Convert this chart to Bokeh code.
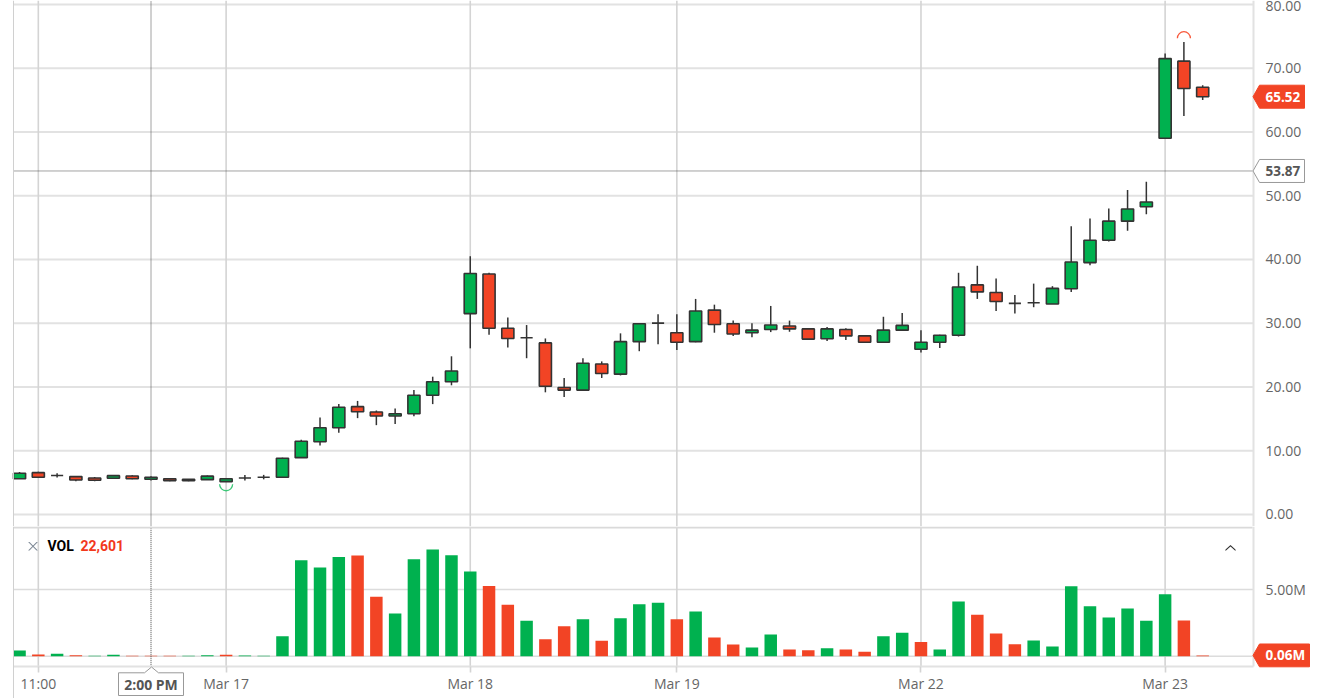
from bokeh.embed import file_html
from bokeh.resources import INLINE
from bokeh.plotting import figure
from bokeh.layouts import column
from bokeh.models import (ColumnDataSource, FixedTicker, Label, LinearAxis, PolyAnnotation,
                          Range1d, NumeralTickFormatter)
import math

opens = [5.6,6.55,6.1,5.93,5.72,5.67,6.03,5.52,5.6,5.3,5.45,5.14,5.72,5.83,5.83,8.9,11.4,13.6,16.9,16.07,
         15.44,15.8,18.7,20.8,31.5,37.7,29.2,27.7,26.9,19.9,19.5,23.6,22.0,27.1,30.0,28.5,27.1,32.05,29.9,28.5,
         29.0,29.55,29.1,27.55,29.0,28.0,27.0,28.9,25.9,27.0,28.1,36.0,34.8,33.1,33.2,33.0,35.4,39.5,43.0,46.0,
         48.25,59.0,71.1,67.0]
highs = [6.66,6.7,6.45,6.0,5.85,6.2,6.15,6.0,5.7,5.55,6.1,5.7,6.2,6.2,8.9,11.7,15.2,17.3,17.8,16.3,
         16.6,19.5,21.6,24.8,40.5,37.9,30.9,29.7,27.6,21.4,24.5,24.0,28.4,30.0,31.4,31.4,33.8,32.9,30.4,30.0,
         32.7,30.4,29.2,29.4,29.2,28.1,31.0,31.6,28.9,28.2,37.9,39.0,37.0,34.4,36.2,35.8,45.2,46.4,48.0,50.9,
         52.2,72.3,74.1,67.3]
lows = [5.6,5.8,5.77,5.2,5.2,5.6,5.5,5.3,5.2,5.2,5.4,5.1,5.3,5.5,5.83,8.9,10.8,12.8,15.1,14.0,
        14.2,15.4,17.3,20.25,26.05,28.2,26.2,24.5,19.15,18.4,19.5,21.4,21.8,25.6,26.7,25.8,27.0,28.5,28.0,27.8,
        28.6,28.65,27.4,27.2,27.35,26.9,26.9,28.8,25.4,26.1,27.9,33.8,31.9,31.5,32.5,33.0,34.9,39.1,42.8,44.5,
        47.1,59.0,62.5,65.0]
closes = [6.45,5.83,6.1,5.4,5.36,6.08,5.6,5.83,5.3,5.5,6.0,5.6,5.72,5.83,8.8,11.47,13.6,16.8,16.1,15.44,
          15.8,18.7,20.8,22.5,37.8,29.2,27.6,27.7,20.1,19.5,23.7,22.1,27.1,29.9,30.0,27.0,31.9,29.8,28.3,28.9,
          29.7,29.1,27.5,29.1,28.0,27.0,28.9,29.65,27.0,28.1,35.66,34.9,33.4,33.1,33.2,35.45,39.6,43.0,46.0,47.9,
          49.0,71.5,66.8,65.52]
volumes = [0.43,0.13,0.18,0.08,0.03,0.1,0.04,0.03,0.04,0.03,0.08,0.1,0.06,0.03,1.5,7.2,6.64,7.44,7.55,4.45,
           3.2,7.27,8.0,7.57,6.35,5.27,3.85,2.65,1.27,2.25,2.77,1.15,2.85,3.9,4.0,2.77,3.35,1.4,0.88,0.65,
           1.62,0.5,0.45,0.6,0.5,0.33,1.5,1.75,1.07,0.5,4.1,3.1,1.7,0.9,1.17,0.73,5.25,3.75,2.9,3.57,
           2.65,4.65,2.68,0.06]
vol_side = list("grgrggrrrg" "grggggggrr" "gggggrrgrr" "grgggrgrrg" "grrgrrggrg" "grrrgggggg" "ggrr")

tick_index = [1, 11, 24, 35, 48, 61]
tick_labels = ["11:00", "Mar 17", "Mar 18", "Mar 19", "Mar 22", "Mar 23"]
price_ticks = [0, 10, 20, 30, 40, 50, 60, 70, 80]
vol_ticks = [5]
vol_tick_labels = ["5.00M"]
last_price = 65.52
cross_price = 53.87
last_vol = 0.06
cross_index = 7
cross_label = "2:00 PM"
low_mark_index = 11
high_mark_index = 62

GREEN = "#00B14F"
RED = "#F24425"
EDGE = "#333333"
GRID = "#E2E2E2"
VGRID = "#D4D4D4"
TEXT = "#666666"
FONT = "Open Sans"

W = 1332
PX_PER_BAR = 18.78
X0_PX = 19.04
X_LEFT = (13 - X0_PX) / PX_PER_BAR
X_RIGHT = (1253 - X0_PX) / PX_PER_BAR
X_RANGE = Range1d(-X0_PX / PX_PER_BAR, (W - X0_PX) / PX_PER_BAR)

PRICE_H = 526
PRICE_SCALE = 6.375
PRICE_ZERO_PX = 513.9
VOL_H = 172
VOL_SCALE = 13.34
VOL_ZERO_PX = 655.7 - PRICE_H


def base_figure(height, y_range):
    return figure(width=W, height=height, x_range=X_RANGE, y_range=y_range,
                  output_backend="svg", toolbar_location=None,
                  x_axis_type=None, y_axis_type=None,
                  min_border=0, outline_line_color=None,
                  background_fill_color="white", border_fill_color="white")


def style_axis(axis):
    axis.axis_line_color = GRID
    axis.axis_line_width = 2
    axis.major_tick_line_color = None
    axis.minor_tick_line_color = None
    axis.major_label_text_color = TEXT
    axis.major_label_text_font = FONT
    axis.major_label_text_font_size = "14px"


def dotted(fig, x0, x1, y0, y1):
    r = fig.segment(x0=[x0], x1=[x1], y0=[y0], y1=[y1], line_color="#444444", line_width=1)
    r.glyph.line_dash = [1, 1]


def tag(fig, value_text, y_value, half_h, right, fill, edge, text_color):
    """Right-axis pointer tag, anchored to its value on the y scale."""
    h = half_h
    xs = [1252.5, 1259, right, right, 1259]
    ys = [y_value, y_value + h, y_value + h, y_value - h, y_value - h]
    fig.add_layout(PolyAnnotation(xs=xs, ys=ys, xs_units="canvas", ys_units="data",
                                  fill_color=fill, fill_alpha=1, line_color=edge, line_alpha=1, line_width=1,
                                  level="overlay", editable=False))
    fig.add_layout(Label(x=1265, y=y_value, x_units="canvas", y_units="data", text=value_text,
                         text_font=FONT, text_font_style="bold", text_font_size="13.5px",
                         text_color=text_color, text_baseline="middle", text_align="left",
                         level="overlay"))


def canvas_poly(fig, xs, ys, color):
    fig.add_layout(PolyAnnotation(xs=xs, ys=ys, xs_units="canvas", ys_units="canvas",
                                  fill_color=color, fill_alpha=1, line_color=None, level="overlay"))


# ---------- price pane ----------
price_top = PRICE_ZERO_PX / PRICE_SCALE
price_bottom = (PRICE_ZERO_PX - PRICE_H) / PRICE_SCALE
price = base_figure(PRICE_H, Range1d(price_bottom, price_top))

price.segment(x0=[X_LEFT] * len(price_ticks), x1=[X_RIGHT] * len(price_ticks), y0=price_ticks, y1=price_ticks,
              line_color=GRID, line_width=2)
price.segment(x0=tick_index, x1=tick_index, y0=[price_bottom] * len(tick_index), y1=[price_top] * len(tick_index),
              line_color=VGRID, line_width=1.6)

price_axis = LinearAxis(ticker=FixedTicker(ticks=price_ticks), formatter=NumeralTickFormatter(format="0.00"),
                        fixed_location=X_RIGHT, major_label_standoff=6)
style_axis(price_axis)
price.add_layout(price_axis, "right")

candles = ColumnDataSource(dict(
    x=list(range(len(opens))),
    top=[max(o, c) for o, c in zip(opens, closes)],
    bottom=[min(o, c) for o, c in zip(opens, closes)],
    high=highs, low=lows,
    color=[GREEN if c >= o else RED for o, c in zip(opens, closes)],
))
price.segment(x0="x", x1="x", y0="low", y1="high", source=candles, line_color=EDGE, line_width=1.5)
price.vbar(x="x", top="top", bottom="bottom", width=0.645, source=candles,
           fill_color="color", line_color=EDGE, line_width=1.6)

price.arc(x=[low_mark_index], y=[lows[low_mark_index] - 0.37], radius=6.5, radius_units="screen",
          start_angle=math.pi, end_angle=2 * math.pi, line_color="#3CC878", line_width=1.3)
price.arc(x=[high_mark_index], y=[highs[high_mark_index] + 0.6], radius=6.5, radius_units="screen",
          start_angle=0, end_angle=math.pi, line_color="#F8593C", line_width=1.3)

dotted(price, X_LEFT, X_RIGHT, cross_price, cross_price)
dotted(price, cross_index, cross_index, price_bottom, price_top)
canvas_poly(price, [12.5, 13.5, 13.5, 12.5], [0, 0, PRICE_H, PRICE_H], "#D0D0D0")
tag(price, f"{last_price:.2f}", last_price, 11.5 / PRICE_SCALE, 1304, RED, RED, "white")
tag(price, f"{cross_price:.2f}", cross_price, 11.5 / PRICE_SCALE, 1304, "white", "#999999", "#555555")

# ---------- volume pane ----------
vol_top = VOL_ZERO_PX / VOL_SCALE
vol_bottom = (VOL_ZERO_PX - VOL_H) / VOL_SCALE
vol_floor = (VOL_ZERO_PX - (666.3 - PRICE_H)) / VOL_SCALE
vol = base_figure(VOL_H, Range1d(vol_bottom, vol_top))

grid_levels = [0] + vol_ticks
vol.segment(x0=[X_LEFT] * len(grid_levels), x1=[X_RIGHT] * len(grid_levels), y0=grid_levels, y1=grid_levels,
            line_color="#DCDCDC", line_width=1.5)
vol.segment(x0=tick_index, x1=tick_index, y0=[vol_floor] * len(tick_index), y1=[vol_top] * len(tick_index),
            line_color=VGRID, line_width=1.6)

vol_axis = LinearAxis(ticker=FixedTicker(ticks=vol_ticks), fixed_location=X_RIGHT, major_label_standoff=6,
                      major_label_overrides=dict(zip(vol_ticks, vol_tick_labels)), bounds=(vol_floor, vol_top))
style_axis(vol_axis)
vol.add_layout(vol_axis, "right")

time_axis = LinearAxis(ticker=FixedTicker(ticks=tick_index), fixed_location=vol_floor, major_label_standoff=1,
                       major_label_overrides=dict(zip(tick_index, tick_labels)), bounds=(X_LEFT, X_RIGHT))
style_axis(time_axis)
time_axis.major_tick_line_color = VGRID
time_axis.major_tick_line_width = 1.6
time_axis.major_tick_out = 6
time_axis.major_tick_in = 0
vol.add_layout(time_axis, "below")

vol_source = ColumnDataSource(dict(
    x=list(range(len(volumes))), top=volumes,
    color=[GREEN if s == "g" else RED for s in vol_side],
))
vol.vbar(x="x", top="top", bottom=0, width=0.665, source=vol_source, fill_color="color",
         line_color=None)

dotted(vol, cross_index, cross_index, vol_floor, vol_top)

# chrome: divider, left rule, closing x, collapse chevron
canvas_poly(vol, [13, 1252, 1252, 13], [0, 0, 2, 2], "#DADADA")
canvas_poly(vol, [12.5, 13.5, 13.5, 12.5], [0, 0, VOL_H, VOL_H], "#D0D0D0")
cx, cy = 32.5, 545.8 - PRICE_H
d, t_ = 4.2, 0.7
canvas_poly(vol, [cx - d - t_, cx - d + t_, cx + d + t_, cx + d - t_], [cy - d, cy - d, cy + d, cy + d], "#7C8794")
canvas_poly(vol, [cx + d - t_, cx + d + t_, cx - d + t_, cx - d - t_], [cy - d, cy - d, cy + d, cy + d], "#7C8794")
canvas_poly(vol, [1225, 1230, 1235, 1235, 1230, 1225], [23, 18.4, 23, 24.4, 20, 24.4], "#333333")

vol.add_layout(Label(x=47, y=545 - PRICE_H, x_units="canvas", y_units="canvas", text="VOL",
                     text_font="Roboto", text_font_style="bold", text_font_size="14px",
                     text_color="#000000", text_baseline="middle"))
vol.add_layout(Label(x=80, y=545 - PRICE_H, x_units="canvas", y_units="canvas", text="22,601",
                     text_font="Roboto", text_font_style="bold", text_font_size="14px",
                     text_color="#F2381C", text_baseline="middle"))

tag(vol, f"{last_vol:.2f}M", last_vol, 11.4 / VOL_SCALE, 1309, RED, RED, "white")

# time tag below the frame
ty0, ty1 = 672.3 - PRICE_H, 695 - PRICE_H
tip = 666.5 - PRICE_H
tx = 151
vol.add_layout(PolyAnnotation(
    xs=[118, tx - 7, tx, tx + 7, 183, 183, 118],
    ys=[ty0, ty0, tip, ty0, ty0, ty1, ty1], xs_units="canvas", ys_units="canvas",
    fill_color="white", fill_alpha=1, line_color="#999999", line_alpha=1, line_width=1, level="overlay"))
vol.add_layout(Label(x=150.5, y=684 - PRICE_H, x_units="canvas", y_units="canvas", text=cross_label,
                     text_font=FONT, text_font_style="bold", text_font_size="14px", text_color="#555555",
                     text_align="center", text_baseline="middle", level="overlay"))

layout = column(price, vol, spacing=0)
open("out.html", "w").write(file_html(layout, INLINE))
